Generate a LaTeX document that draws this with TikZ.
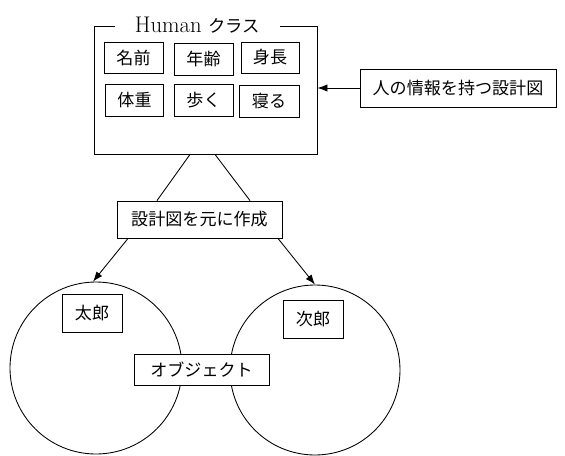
\documentclass[tikz,border=0pt]{standalone}
\usepackage{fontspec}
\newfontfamily\jp{Noto Sans CJK JP}
\usetikzlibrary{arrows.meta}

\begin{document}
\begin{tikzpicture}[x=0.75pt,y=-0.75pt,
  wh/.style 2 args={minimum width=#1*0.75pt,minimum height=#2*0.75pt},
  box/.style={draw,line width=0.65pt,inner sep=0pt,font=\jp\fontsize{12.8}{14}\selectfont},
  obj/.style={draw,line width=0.65pt,circle,inner sep=0pt},
  conn/.style={line width=0.65pt},
  tip/.style={-{Latex[length=7.5pt,width=5.5pt]}}]
\useasboundingbox (0,0) rectangle (565,455);
%================================================================
%	Class
\node[box,wh={223}{128}] (cls) at (205.5,90) {};
\node[fill=white,inner sep=0pt,wh={165}{22}] (title) at (197.5,25)
  {\fontsize{17}{20}\selectfont Human \jp\fontsize{13}{15}\selectfont クラス};
%----------------------------------------------------------------
\node[box,wh={59}{31}] (name)   at (133.5,57.5) {名前};
\node[box,wh={59}{32}] (age)    at (203.5,59)   {年齢};
\node[box,wh={58}{31}] (tall)   at (270,57.5)   {身長};
\node[box,wh={58}{32}] (weight) at (134.5,100.5) {体重};
\node[box,wh={59}{32}] (walk)   at (203.5,100)  {歩く};
\node[box,wh={60}{32}] (sleep)  at (269,101)    {寝る};
%----------------------------------------------------------------
\node[box,wh={196}{38}] (info) at (458,88) {人の情報を持つ設計図};
\draw[conn,tip] (info.west) -- (info.west -| cls.east);
%================================================================
%	Instances
\node[box,wh={165}{37}] (make) at (199.5,219.5) {設計図を元に作成};
\draw[conn] ([xshift=-15.5*0.75pt]cls.south) -- ([xshift=-42.5*0.75pt]make.north);
\draw[conn] ([xshift=9.5*0.75pt]cls.south) -- ([xshift=50.5*0.75pt]make.north);
%----------------------------------------------------------------
\node[obj,minimum size=172*0.75pt] (taro) at (96,368) {};
\node[obj,minimum size=170*0.75pt] (jiro) at (315,370) {};
\draw[conn,tip] ([xshift=-71.5*0.75pt]make.south) -- (taro.92);
\draw[conn,tip] ([xshift=78.5*0.75pt]make.south) -- (jiro.north);
%----------------------------------------------------------------
\node[box,wh={60}{38}] (taroname) at (92,313) {太郎};
\node[box,wh={60}{38}] (jironame) at (313,319) {次郎};
\node[box,fill=white,wh={135}{31}] (object) at (201.5,369.5) {オブジェクト};
%================================================================
\end{tikzpicture}
\end{document}
